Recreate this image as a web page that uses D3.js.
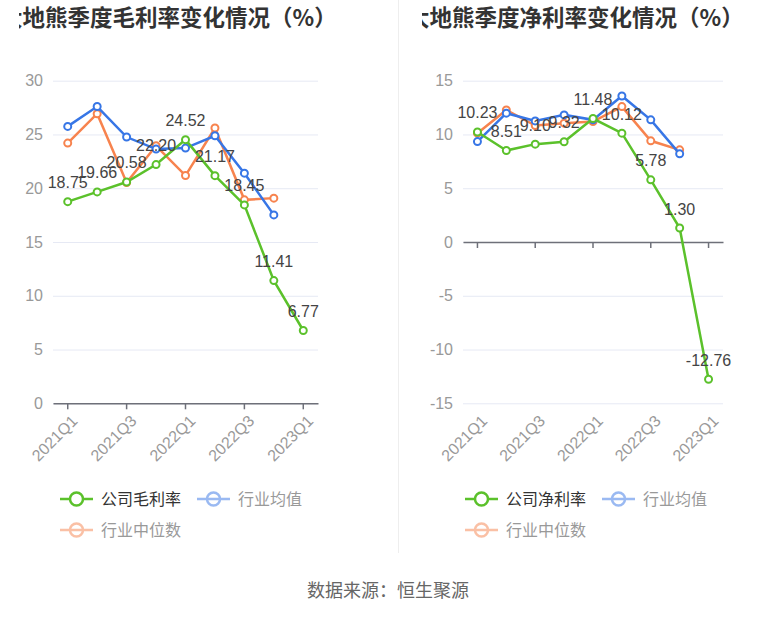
<!DOCTYPE html>
<html lang="zh">
<head>
<meta charset="utf-8">
<title>大地熊季度利润率变化情况</title>
<script src="https://cdn.jsdelivr.net/npm/d3@7/dist/d3.min.js"></script>
<style>
  body { margin: 0; background: #fff; }
  svg { display: block; font-family: "Liberation Sans", "Noto Sans CJK SC", sans-serif; }
  .grid line { stroke: #e6e9f4; }
  .grid path { display: none; }
</style>
</head>
<body>
<script>
// quarters
var quarters = ["2021Q1","2021Q2","2021Q3","2021Q4","2022Q1","2022Q2","2022Q3","2022Q4","2023Q1"];
var shownQuarters = ["2021Q1","2021Q3","2022Q1","2022Q3","2023Q1"];

// gross margin chart
var grossCompany = [18.75, 19.66, 20.58, 22.20, 24.52, 21.17, 18.45, 11.41, 6.77];
var grossAvg = [25.75, 27.6, 24.76, 23.64, 23.73, 24.88, 21.4, 17.52, null];
var grossMedian = [24.2, 26.93, 20.53, 23.95, 21.18, 25.6, 18.92, 19.08, null];
var grossTicks = [0, 5, 10, 15, 20, 25, 30];

// net margin chart
var netCompany = [10.23, 8.51, 9.10, 9.32, 11.48, 10.12, 5.78, 1.30, -12.76];
var netAvg = [9.34, 11.98, 11.26, 11.82, 11.36, 13.58, 11.36, 8.2, null];
var netMedian = [10.12, 12.28, 10.83, 11.05, 11.2, 12.59, 9.41, 8.57, null];
var netTicks = [-15, -10, -5, 0, 5, 10, 15];

var green = "#5bc12b", blue = "#3776e6", orange = "#f7834e";

var svg = d3.select("body").append("svg").attr("width", 776).attr("height", 619);

// divider between the two charts
svg.append("line").attr("x1", 398.5).attr("x2", 398.5).attr("y1", 0).attr("y2", 553)
  .attr("stroke", "#eeeeee");

function drawChart(o) {
  var g = svg.append("g");
  var clipId = "clip" + o.id;
  svg.append("clipPath").attr("id", clipId).append("rect")
    .attr("x", o.clipX).attr("y", 0).attr("width", o.clipW).attr("height", 619);

  g.append("text").attr("clip-path", "url(#" + clipId + ")")
    .attr("x", o.titleX).attr("y", 26)
    .attr("font-family", "Noto Sans CJK SC, sans-serif")
    .attr("font-size", 22.5).attr("font-weight", "bold").attr("fill", "#333")
    .text(o.title);

  var x = d3.scaleBand().domain(quarters).range(o.xRange).padding(0);
  var y = d3.scaleLinear().domain(o.yDomain).range([403.3, 80.7]);
  var cx = function(q) { return x(q) + x.bandwidth() / 2; };

  // grid + y labels
  var ya = g.append("g").attr("class", "grid")
    .attr("transform", "translate(" + o.xRange[0] + ",0)")
    .call(d3.axisLeft(y).tickValues(o.ticks).tickFormat(function(d) { return String(d); })
      .tickSize(-(o.xRange[1] - o.xRange[0])).tickPadding(10));
  ya.selectAll("text").attr("font-size", 16).attr("fill", "#999");

  // x axis line at zero
  var xa = g.append("g").attr("transform", "translate(0," + y(0) + ")")
    .call(d3.axisBottom(x).tickValues(shownQuarters).tickSize(6).tickSizeOuter(0).tickFormat(""));
  xa.select("path").attr("stroke", "#6e7079").attr("stroke-width", 1.5);
  xa.selectAll("line").attr("stroke", "#6e7079").attr("stroke-width", 1.5);

  // rotated category labels at the bottom
  g.selectAll(".qlab").data(shownQuarters).enter().append("text")
    .attr("class", "qlab")
    .attr("transform", function(d) { return "translate(" + (cx(d) + 3) + ",414) rotate(-45)"; })
    .attr("text-anchor", "end").attr("dy", "0.7em")
    .attr("font-size", 16).attr("fill", "#999")
    .text(function(d) { return d; });

  var line = d3.line()
    .defined(function(d) { return d != null; })
    .x(function(d, i) { return cx(quarters[i]); })
    .y(function(d) { return y(d); });

  o.series.forEach(function(s) {
    g.append("path").datum(s.values).attr("d", line)
      .attr("fill", "none").attr("stroke", s.color).attr("stroke-width", 2.5);
    var pts = s.values.map(function(v, i) { return { v: v, q: quarters[i] }; })
      .filter(function(p) { return p.v != null; });
    g.selectAll(null).data(pts).enter().append("circle")
      .attr("cx", function(p) { return cx(p.q); })
      .attr("cy", function(p) { return y(p.v); })
      .attr("r", 3.5).attr("fill", "#fff").attr("stroke", s.color).attr("stroke-width", 2);
  });

  // value labels for the company series
  var comp = o.series[o.series.length - 1];
  g.selectAll(null).data(comp.values).enter().append("text")
    .attr("x", function(v, i) { return cx(quarters[i]); })
    .attr("y", function(v) { return y(v) - 13.5; })
    .attr("text-anchor", "middle").attr("font-size", 16).attr("fill", "#444")
    .text(function(v) { return v.toFixed(2); });

  // legend
  var leg = [
    { name: o.compName, color: green, text: "#333", fade: false, x: o.legX, y: 499 },
    { name: "行业均值", color: blue, text: "#999", fade: true, x: o.legX + 137, y: 499 },
    { name: "行业中位数", color: orange, text: "#999", fade: true, x: o.legX, y: 530 }
  ];
  leg.forEach(function(l) {
    var lg = g.append("g").attr("opacity", l.fade ? 0.5 : 1);
    lg.append("line").attr("x1", l.x).attr("x2", l.x + 33).attr("y1", l.y).attr("y2", l.y)
      .attr("stroke", l.color).attr("stroke-width", 2.5);
    lg.append("circle").attr("cx", l.x + 16.5).attr("cy", l.y).attr("r", 6.5)
      .attr("fill", l.fade ? "none" : "#fff").attr("stroke", l.color).attr("stroke-width", 2.5);
    g.append("text").attr("x", l.x + 41).attr("y", l.y).attr("dy", "0.35em")
      .attr("font-size", 16).attr("fill", l.text).text(l.name);
  });
}

drawChart({
  id: "L", title: "大地熊季度毛利率变化情况（%）", titleX: 0, clipX: 19, clipW: 325,
  xRange: [53, 318], yDomain: [0, 30], ticks: grossTicks,
  compName: "公司毛利率", legX: 60,
  series: [
    { values: grossMedian, color: orange },
    { values: grossAvg, color: blue },
    { values: grossCompany, color: green }
  ]
});

drawChart({
  id: "R", title: "大地熊季度净利率变化情况（%）", titleX: 407, clipX: 422, clipW: 322,
  xRange: [463, 723], yDomain: [-15, 15], ticks: netTicks,
  compName: "公司净利率", legX: 465,
  series: [
    { values: netMedian, color: orange },
    { values: netAvg, color: blue },
    { values: netCompany, color: green }
  ]
});

svg.append("text").attr("x", 388).attr("y", 597).attr("text-anchor", "middle")
  .attr("font-size", 18).attr("fill", "#666").text("数据来源：恒生聚源");
</script>
</body>
</html>
